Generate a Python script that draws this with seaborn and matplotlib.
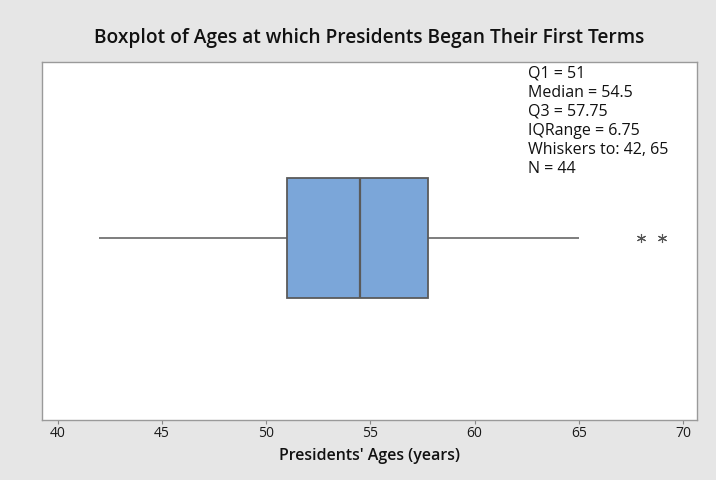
import numpy as np
import pandas as pd
import matplotlib
matplotlib.use("Agg")
import matplotlib.pyplot as plt
import seaborn as sns

# Ages at which U.S. presidents began their first terms (Cleveland counted twice)
ages = [57, 61, 57, 57, 58, 57, 61, 54, 68, 51, 49, 64, 50, 48, 65, 52, 56, 46,
        54, 49, 51, 47, 55, 55, 54, 42, 51, 56, 55, 51, 54, 51, 60, 62, 43, 55,
        56, 61, 52, 69, 64, 46, 54, 47]
title = "Boxplot of Ages at which Presidents Began Their First Terms"
xlabel = "Presidents' Ages (years)"
xticks = [40, 45, 50, 55, 60, 65, 70]

df = pd.DataFrame({"age": ages})

# Quartiles by the (n+1)p rule
q1, med, q3 = np.percentile(ages, [25, 50, 75], method="weibull")
iqr = q3 - q1
arr = np.array(ages)
lo_w = arr[arr >= q1 - 1.5 * iqr].min()
hi_w = arr[arr <= q3 + 1.5 * iqr].max()

sns.set_theme(style="white")
plt.rcParams["font.family"] = ["Open Sans", "DejaVu Sans"]

fig = plt.figure(figsize=(7.16, 4.8), dpi=100, facecolor="#e6e6e6")
ax = fig.add_axes([42 / 716, 1 - 420 / 480, 655 / 716, 358 / 480])
ax.set_facecolor("white")

edge = "#5a5a5a"
sns.boxplot(data=df, x="age", orient="h", ax=ax, width=0.335,
            color="#7ba6d9", saturation=1, linewidth=1.3, linecolor=edge,
            whis=1.5,
            flierprops=dict(marker=(6, 2, 0), markersize=6.5, markeredgewidth=0.8,
                            markeredgecolor="#555555"),
            capprops=dict(linewidth=0),
            whiskerprops=dict(color=edge, linewidth=1.1),
            medianprops=dict(color=edge, linewidth=1.6))

# Shift box edges and whisker ends to the (n+1)p quartiles
lin_q1, lin_q3 = np.percentile(ages, [25, 75])
for p in ax.patches:
    v = p.get_path().vertices
    v[np.isclose(v[:, 0], lin_q3), 0] = q3
    v[np.isclose(v[:, 0], lin_q1), 0] = q1
for ln in ax.lines:
    xd = np.asarray(ln.get_xdata(), dtype=float)
    if len(xd) == 2:
        xd = np.where(np.isclose(xd, lin_q3), q3, xd)
        xd = np.where(np.isclose(xd, lin_q1), q1, xd)
        ln.set_xdata(xd)

ax.set_xlim(39.25, 70.67)
ax.set_ylim(0.5084, -0.4916)
ax.set_xticks(xticks)
ax.set_xticklabels([str(t) for t in xticks], fontsize=10, color="#1a1a1a")
ax.set_yticks([])
ax.set_ylabel("")
ax.set_xlabel(xlabel, fontsize=11.5, fontweight="semibold", color="#111111", labelpad=5)
ax.tick_params(axis="x", direction="out", length=3, width=0.8, color="#888888", pad=1,
               bottom=True)
for s in ax.spines.values():
    s.set_visible(True)
    s.set_color("#9a9a9a")
    s.set_linewidth(1.0)

fig.text((42 + 697) / 2 / 716, 1 - 38 / 480, title, ha="center", va="center",
         fontsize=13.8, fontweight="semibold", color="#111111")

stats_text = (f"Q1 = {q1:g}\nMedian = {med:g}\nQ3 = {q3:g}\nIQRange = {iqr:g}\n"
              f"Whiskers to: {lo_w:g}, {hi_w:g}\nN = {len(ages)}")
ax.text((528 - 42) / 655, 1 - (66 - 62) / 358, stats_text, transform=ax.transAxes,
        ha="left", va="top", fontsize=11.5, color="#111111", linespacing=1.25)

fig.savefig("out.png", dpi=100, facecolor=fig.get_facecolor())
